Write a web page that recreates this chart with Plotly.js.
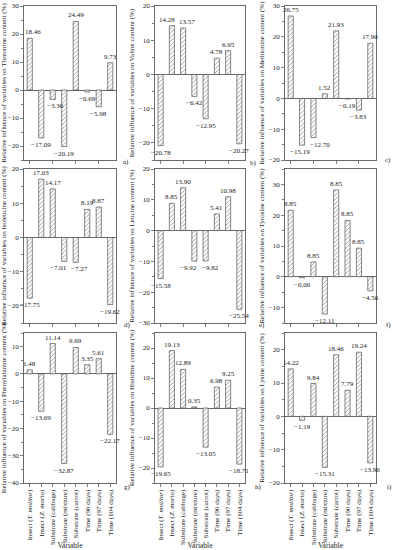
<!DOCTYPE html>
<html>
<head>
<meta charset="utf-8">
<script src="https://cdn.plot.ly/plotly-3.0.1.min.js"></script>
<style>html,body{margin:0;padding:0;background:#fff}#chart{width:395px;height:550px}</style>
</head>
<body>
<div id="chart"></div>
<script>
const categories = ['Insect (<i>T. molitor</i>)', 'Insect (<i>Z. morio</i>)', 'Substrate (cabbage)', 'Substrate (mixture)', 'Substrate (carrot)', 'Time (90 days)', 'Time (97 days)', 'Time (104 days)'];
const threonine = [18.46, -17.09, -3.36, -20.19, 24.49, -0.69, -5.98, 9.73];
const valine = [-20.78, 14.28, 13.57, -6.42, -12.95, 4.78, 6.95, -20.27];
const methionine = [26.75, -15.19, -12.70, 1.52, 21.93, -0.19, -3.83, 17.90];
const isoleucine = [-17.75, 17.03, 14.17, -7.01, -7.27, 8.19, 8.87, -19.62];
const leucine = [-15.58, 8.85, 13.90, -9.92, -9.82, 5.41, 10.98, -25.54];
const tyrosine = [21.6, -0.3, 4.8, -12.11, 28.2, 18.3, 9.3, -4.56];
const tyrosineLabels = ['8.85', '-0.00', '8.85', '-12.11', '8.85', '8.85', '8.85', '-4.56'];
const phenylalanine = [1.48, -13.69, 11.14, -32.87, 9.69, 3.35, 5.61, -22.17];
const histidine = [-19.65, 19.13, 12.89, 0.35, -13.05, 6.98, 9.25, -18.71];
const lysine = [14.22, -1.19, 9.84, -15.31, 18.46, 7.79, 19.24, -13.96];

const names = ['Threonine','Valine','Methionine','Isoleucine','Leucine','Tyrosine','Phenylalanine','Histidine','Lysine'];
const series = [threonine, valine, methionine, isoleucine, leucine, tyrosine, phenylalanine, histidine, lysine];
const yRanges = [[-25,30],[-25,20],[-20,30],[-25,20],[-30,20],[-15,35],[-40,15],[-25,25],[-20,25]];
const tags = ['a)','b)','c)','d)','e)','f)','g)','h)','i)'];

// style: horizontal nudges (px) for value labels that would collide
const labelNudge = [
  [3,0,3,0,0,0,0,0],
  [0,-5,4,0,0,0,0,0],
  [0,-2,7,0,0,0,0,0],
  [0,0,0,-6,4,0,0,0],
  [0,0,0,-6,5,0,0,0],
  [0,0,0,0,0,0,0,0],
  [0,0,0,0,0,0,0,0],
  [0,0,0,0,0,0,0,0],
  [0,0,0,0,0,0,0,0]
];

const W = 395, H = 550;
const colPx = [[24,116],[155,245],[285,376]];
const rowPx = [[6,160],[169,323],[333,483]];
const tagPos = [[126,162],[253,163],[388,160],[127,325],[262,325],[388,325],[127,487],[258,487],[389,487]];

const fmt = v => (v < 0 ? '\u2212' : '') + Math.abs(v).toFixed(2);
const serif = 'Liberation Serif, Times New Roman, serif';
const axisColor = '#444';
const txt = '#222';

const data = [];
const layout = {
  width: W, height: H,
  margin: {l:0, r:0, t:0, b:0},
  paper_bgcolor: '#fff', plot_bgcolor: '#fff',
  showlegend: false,
  font: {family: serif, size: 7, color: txt},
  annotations: []
};

series.forEach((vals, i) => {
  const r = Math.floor(i/3), c = i%3;
  const sfx = i === 0 ? '' : String(i+1);
  const labels = i === 5 ? tyrosineLabels.map(s => s.replace('-', '\u2212')) : vals.map(fmt);
  data.push({
    type: 'bar', x: categories, y: vals,
    xaxis: 'x'+sfx, yaxis: 'y'+sfx,
    width: 0.45,
    marker: {color: '#fff', line: {color: '#555', width: 0.7},
             pattern: {shape: '/', fgcolor: '#888', bgcolor: '#fff', size: 3, solidity: 0.25}},
    hoverinfo: 'skip'
  });
  vals.forEach((v, j) => {
    layout.annotations.push({
      xref: 'x'+sfx, yref: 'y'+sfx, x: j, y: v,
      text: labels[j], showarrow: false,
      font: {family: serif, size: 7, color: txt},
      xanchor: 'center', yanchor: v >= 0 ? 'bottom' : 'top',
      xshift: labelNudge[i][j], yshift: v >= 0 ? 0 : -1
    });
  });
  layout['xaxis'+sfx] = {
    domain: [colPx[c][0]/W, colPx[c][1]/W],
    anchor: 'y'+sfx, type: 'category', range: [-0.5, 7.5],
    showline: true, linecolor: axisColor, linewidth: 0.8, mirror: true,
    ticks: 'outside', ticklen: 3, tickcolor: axisColor, tickwidth: 0.7,
    showgrid: false, zeroline: false,
    showticklabels: r === 2, tickangle: -90,
    tickfont: {family: serif, size: 7, color: txt},
    title: r === 2 ? {text: 'Variable', font: {family: serif, size: 7.5, color: txt}, standoff: 4} : {text: ''}
  };
  layout['yaxis'+sfx] = {
    domain: [1 - rowPx[r][1]/H, 1 - rowPx[r][0]/H],
    anchor: 'x'+sfx, range: yRanges[i],
    showline: true, linecolor: axisColor, linewidth: 0.8, mirror: true,
    ticks: 'outside', ticklen: 3, tickcolor: axisColor, tickwidth: 0.7, dtick: 10,
    minor: {dtick: 5, ticks: 'outside', ticklen: 2, tickcolor: axisColor},
    showgrid: false, zeroline: true, zerolinecolor: axisColor, zerolinewidth: 0.8,
    tickfont: {family: serif, size: 7, color: txt},
    title: {text: 'Relative influence of variables on ' + names[i] + ' content (%)', font: {family: serif, size: 7, color: txt}, standoff: 3}
  };
  layout.annotations.push({
    xref: 'paper', yref: 'paper', x: tagPos[i][0]/W, y: 1 - tagPos[i][1]/H,
    text: tags[i], showarrow: false, font: {family: serif, size: 7, color: txt},
    xanchor: 'center', yanchor: 'middle'
  });
});

Plotly.newPlot('chart', data, layout, {staticPlot: true, displayModeBar: false});
</script>
</body>
</html>
